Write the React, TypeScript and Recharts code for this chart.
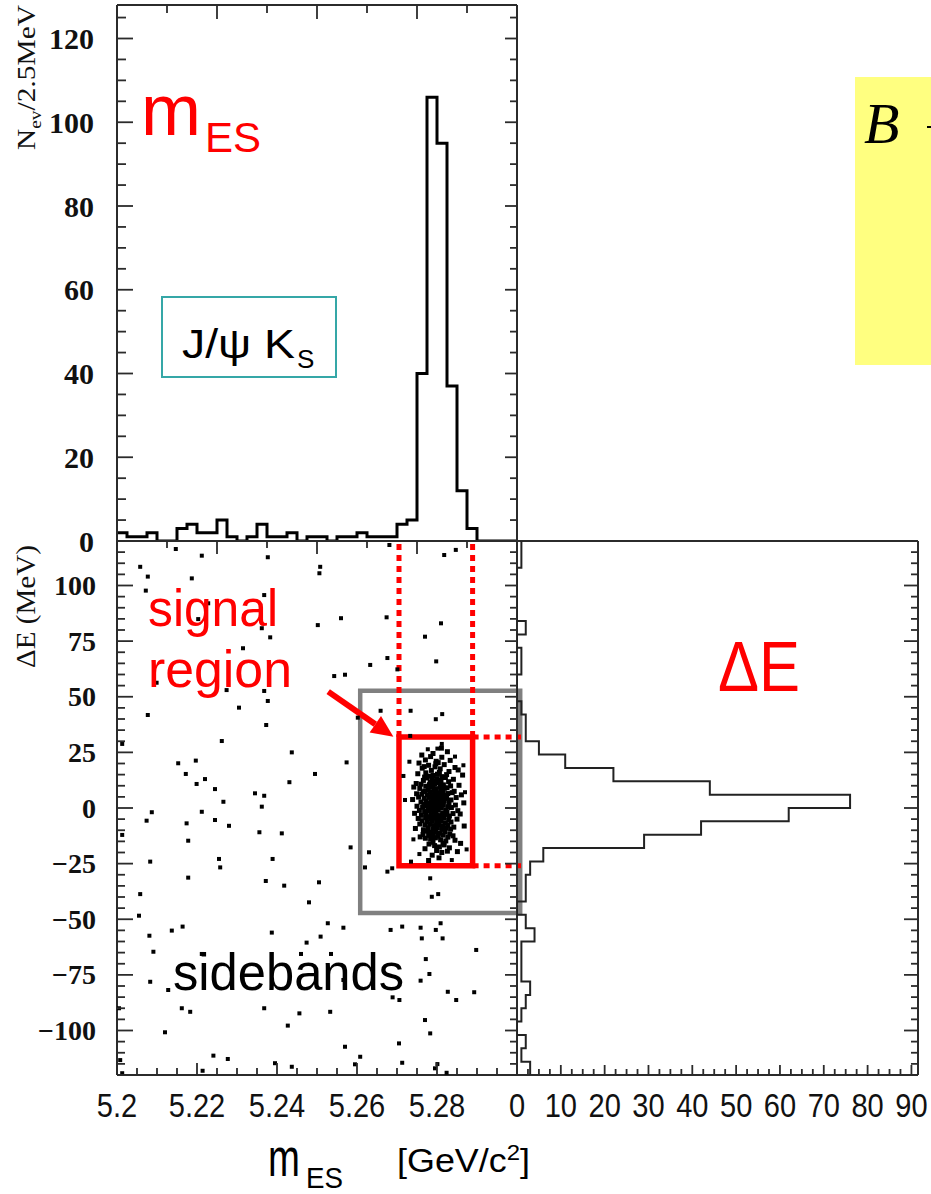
import React from "react"
import {
  LineChart,
  Line,
  ScatterChart,
  Scatter,
  XAxis,
  YAxis,
  ReferenceArea,
  ReferenceLine,
} from "recharts"

const W = 931
const H = 1194

// m_ES histogram: 2.5 MeV bins from 5.200 to 5.300 GeV/c2
const MES_START = 5.2
const MES_BIN = 0.0025
const MES_COUNTS = [
  2, 1, 1, 2, 0, 0, 3, 4, 2, 2, 5, 1, 0, 1, 4, 1, 1, 2, 0, 1,
  1, 0, 1, 1, 2, 1, 1, 1, 4, 5, 40, 106, 95, 37, 12, 3, 0, 0, 0, 0,
]

// Delta E histogram: 6 MeV bins from +120 down to -120 MeV
const DE_START = 120
const DE_BIN = 6
const DE_COUNTS = [
  1, 1, 0, 0, 0, 0, 2, 0, 1, 1, 0, 0, 1, 2, 2, 5, 11, 22, 44, 76,
  62, 42, 29, 6, 3, 2, 2, 0, 2, 4, 1, 1, 1, 3, 2, 1, 0, 2, 1, 3,
]

// scatter: [mES, dE] of the events outside the signal peak
const BG_EVENTS: [number, number][] = [
  [5.2147, 116.4], [5.2212, 113.4], [5.2377, 112.7], [5.2058, 108.4], [5.2508, 108.4], [5.2077, 104.0], [5.2187, 103.2], [5.2506, 105.5], [5.2072, 97.7], [5.2368, 95.7],
  [5.2228, 92.0], [5.2203, 84.9], [5.2362, 80.8], [5.2383, 76.7], [5.2502, 82.2], [5.2560, 85.3], [5.2315, 71.8], [5.2543, 59.3], [5.2570, 59.9], [5.2099, 56.3],
  [5.2274, 53.0], [5.2368, 52.6], [5.2377, 48.1], [5.2305, 45.1], [5.2077, 41.8], [5.2373, 37.3], [5.2602, 40.6], [5.2013, 28.8], [5.2262, 30.1], [5.2437, 25.0],
  [5.2153, 20.1], [5.2197, 21.3], [5.2574, 20.5], [5.2172, 15.3], [5.2495, 15.3], [5.2220, 13.0], [5.2199, 10.8], [5.2431, 11.6], [5.2245, 8.5], [5.2345, 6.6],
  [5.2368, 5.5], [5.2266, 2.8], [5.2362, 0.6], [5.2087, -1.9], [5.2074, -5.7], [5.2212, -1.7], [5.2174, -6.9], [5.2245, -5.4], [5.2280, -8.0], [5.2013, -12.1],
  [5.2356, -10.9], [5.2412, -11.4], [5.2178, -14.7], [5.2584, -17.7], [5.2083, -24.1], [5.2255, -22.9], [5.2258, -26.7], [5.2389, -22.9], [5.2178, -31.3], [5.2372, -32.8],
  [5.2418, -34.9], [5.2505, -33.4], [5.2058, -38.7], [5.2480, -42.4], [5.2055, -48.4], [5.2527, -51.8], [5.2566, -53.8], [5.2137, -55.1], [5.2164, -53.3], [5.2081, -57.4],
  [5.2387, -56.0], [5.2474, -60.5], [5.2509, -57.8], [5.2091, -64.6], [5.2460, -65.6], [5.2535, -65.6], [5.2212, -65.6], [5.2083, -78.1], [5.2128, -81.8], [5.2566, -77.3],
  [5.2005, -90.0], [5.2162, -90.0], [5.2183, -91.6], [5.2368, -90.0], [5.2456, -92.3], [5.2533, -91.6], [5.2427, -97.8], [5.2120, -100.8], [5.2570, -107.3], [5.2241, -111.3],
  [5.2277, -112.8], [5.2008, -113.3], [5.2608, -111.8], [5.2395, -114.7], [5.2437, -116.3], [5.2214, -118.1], [5.2013, -119.2], [5.2595, -115.2],
  [5.2681, 118.2], [5.2818, 113.7], [5.2847, 116.0], [5.2674, 85.7], [5.2810, 83.0], [5.2770, 77.0], [5.2676, 67.4], [5.2633, 64.3], [5.2701, 62.3], [5.2798, 65.9],
  [5.2659, 43.7], [5.2734, 43.7], [5.2797, 39.9], [5.2813, 42.2], [5.2733, 32.4], [5.2777, 26.4], [5.2801, 26.7], [5.2812, 28.8], [5.2731, 20.8], [5.2845, 23.1],
  [5.2866, 19.2], [5.2716, 14.4], [5.2870, 7.1], [5.2720, 3.6], [5.2741, -14.1],
  [5.2630, -19.9], [5.2620, -26.7], [5.2676, -28.6], [5.2688, -27.1], [5.2735, -24.1], [5.2756, -20.7], [5.2837, -23.4], [5.2874, -18.6], [5.2783, -31.6], [5.2787, -39.9],
  [5.2803, -38.7], [5.2684, -54.8], [5.2713, -53.3], [5.2759, -53.8], [5.2762, -58.6], [5.2797, -54.8], [5.2809, -51.8], [5.2814, -58.6], [5.2898, -63.8], [5.2772, -67.9],
  [5.2781, -74.6], [5.2759, -77.6], [5.2689, -85.1], [5.2706, -86.3], [5.2827, -82.6], [5.2848, -86.3], [5.2893, -82.8], [5.2770, -95.3], [5.2705, -105.8], [5.2783, -101.3],
  [5.2713, -114.5], [5.2795, -117.0], [5.2824, -119.0], [5.2801, -115.1],
]

// scatter: [mES, dE] of the J/psi Ks signal cluster
const SIGNAL_EVENTS: [number, number][] = [
  [5.2790, 24.5], [5.2812, 22.8], [5.2771, 21.6], [5.2803, 20.4], [5.2826, 25.3], [5.2784, 23.1], [5.2798, 21.0], [5.2755, 20.2],
  [5.2779, 19.2], [5.2795, 18.5], [5.2808, 17.6], [5.2786, 16.9], [5.2818, 19.5], [5.2772, 15.8], [5.2801, 15.2], [5.2830, 16.4], [5.2763, 17.9],
  [5.2790, 14.6], [5.2812, 14.1], [5.2845, 18.2], [5.2797, 19.9], [5.2781, 14.3], [5.2824, 15.0], [5.2768, 18.6], [5.2806, 16.0], [5.2752, 15.4],
  [5.2775, 13.5], [5.2788, 12.8], [5.2799, 13.2], [5.2810, 12.1], [5.2821, 13.7], [5.2766, 12.4], [5.2783, 11.6], [5.2794, 10.9], [5.2805, 11.3], [5.2816, 10.4],
  [5.2829, 11.8], [5.2760, 10.7], [5.2772, 9.8], [5.2786, 9.3], [5.2797, 8.7], [5.2808, 9.5], [5.2819, 8.9], [5.2834, 9.9], [5.2778, 8.3], [5.2790, 10.1],
  [5.2802, 12.5], [5.2748, 11.0], [5.2841, 12.9], [5.2813, 8.4], [5.2769, 13.9], [5.2793, 11.9], [5.2825, 9.1], [5.2781, 10.5], [5.2855, 10.2], [5.2757, 8.8],
  [5.2770, 7.6], [5.2782, 7.1], [5.2793, 7.9], [5.2804, 6.8], [5.2815, 7.4], [5.2827, 6.5], [5.2762, 6.2], [5.2776, 5.8], [5.2788, 6.0], [5.2799, 5.4],
  [5.2810, 5.9], [5.2822, 5.1], [5.2838, 6.9], [5.2754, 4.9], [5.2768, 4.4], [5.2780, 4.8], [5.2791, 4.1], [5.2802, 4.6], [5.2813, 3.9], [5.2824, 4.3],
  [5.2835, 3.6], [5.2773, 3.2], [5.2785, 2.9], [5.2796, 3.4], [5.2807, 2.6], [5.2818, 3.1], [5.2830, 2.4], [5.2760, 2.7], [5.2749, 6.4], [5.2848, 4.7],
  [5.2797, 6.6], [5.2786, 2.2], [5.2809, 7.7], [5.2766, 7.3], [5.2819, 5.6], [5.2777, 2.0], [5.2843, 7.5], [5.2801, 3.0], [5.2792, 5.2], [5.2861, 5.9],
  [5.2771, 1.6], [5.2783, 1.2], [5.2794, 1.8], [5.2805, 0.9], [5.2816, 1.4], [5.2828, 0.6], [5.2764, 0.3], [5.2777, -0.2], [5.2789, 0.4], [5.2800, -0.5],
  [5.2811, 0.1], [5.2822, -0.8], [5.2836, 0.2], [5.2756, -1.1], [5.2769, -1.6], [5.2781, -1.3], [5.2792, -1.9], [5.2803, -1.0], [5.2814, -2.2], [5.2825, -1.7],
  [5.2840, -2.5], [5.2773, -2.8], [5.2786, -3.1], [5.2797, -2.6], [5.2808, -3.4], [5.2819, -2.9], [5.2831, -3.6], [5.2761, -3.3], [5.2750, 0.8], [5.2852, -1.2],
  [5.2795, 0.0], [5.2784, -0.7], [5.2806, 1.7], [5.2817, -3.8], [5.2767, 1.1], [5.2846, 1.3], [5.2779, -3.9], [5.2799, -3.5], [5.2858, -2.7], [5.2744, -2.4],
  [5.2772, -4.3], [5.2784, -4.8], [5.2795, -4.5], [5.2806, -5.1], [5.2817, -4.6], [5.2829, -5.4], [5.2763, -5.7], [5.2776, -6.2], [5.2788, -5.9], [5.2799, -6.5],
  [5.2810, -6.0], [5.2821, -6.8], [5.2835, -6.3], [5.2757, -7.2], [5.2770, -7.6], [5.2782, -7.3], [5.2793, -7.9], [5.2804, -7.5], [5.2815, -8.2], [5.2827, -7.7],
  [5.2842, -8.6], [5.2778, -8.9], [5.2790, -9.3], [5.2801, -8.8], [5.2812, -9.6], [5.2823, -9.1], [5.2766, -9.8], [5.2850, -5.0], [5.2753, -4.7], [5.2797, -9.9],
  [5.2834, -9.5], [5.2786, -4.1],
  [5.2774, -10.4], [5.2786, -10.9], [5.2797, -10.6], [5.2808, -11.3], [5.2820, -10.8], [5.2832, -11.7], [5.2765, -11.9], [5.2779, -12.3], [5.2791, -12.0], [5.2803, -12.7],
  [5.2815, -12.2], [5.2827, -13.1], [5.2840, -12.5], [5.2771, -13.6], [5.2784, -14.0], [5.2796, -13.4], [5.2809, -14.3], [5.2822, -14.8], [5.2758, -13.0], [5.2845, -14.5],
  [5.2790, -15.4], [5.2815, -15.8],
  [5.2780, -16.2], [5.2794, -16.9], [5.2806, -17.5], [5.2818, -16.6], [5.2831, -17.9], [5.2770, -18.3], [5.2799, -19.1], [5.2812, -20.0], [5.2788, -21.2], [5.2826, -19.4],
  // wider tails of the peak
  [5.2864, 14.8], [5.2868, -8.1], [5.2859, -15.9], [5.2742, 9.4], [5.2746, -9.2], [5.2853, 17.1], [5.2867, 2.3], [5.2739, 3.8],
  [5.2805, -22.4], [5.2779, -23.6], [5.2833, 21.4], [5.2762, 23.8], [5.2851, -19.6], [5.2811, 26.9],
]

// tick labels
const NEV_LABELS = [0, 20, 40, 60, 80, 100, 120]
const DE_LABELS = [-100, -75, -50, -25, 0, 25, 50, 75, 100]
const MES_LABELS = [5.2, 5.22, 5.24, 5.26, 5.28]
const COUNT_LABELS = [0, 10, 20, 30, 40, 50, 60, 70, 80, 90]

// cut boxes (mES in GeV, dE in MeV)
const SIGNAL_BOX = { m1: 5.2705, m2: 5.2889, e1: -26, e2: 31.9 }
const SIDEBAND_BOX = { m1: 5.2608, m2: 5.3008, e1: -47.2, e2: 52.7 }
const ARROW = { m1: 5.2528, e1: 52.3, m2: 5.2691, e2: 32.0 }

const RED = "#ff0000"
const FRAME = "#2b2b2b"
const SERIF = "'Liberation Serif', 'Times New Roman', serif"
const SANS = "'Liberation Sans', Arial, sans-serif"
const NARROW = "'Liberation Sans Narrow', 'Arial Narrow', 'Liberation Sans', sans-serif"

const mesHist = [
  ...MES_COUNTS.map((n, i) => ({ m: +(MES_START + i * MES_BIN).toFixed(4), n })),
  { m: +(MES_START + MES_COUNTS.length * MES_BIN).toFixed(4), n: MES_COUNTS[MES_COUNTS.length - 1] },
]
// outline of the sideways histogram: each bin gives its top and bottom corner at its count
const deOutline = DE_COUNTS.flatMap((n, i) => [
  { n, de: DE_START - i * DE_BIN },
  { n, de: DE_START - (i + 1) * DE_BIN },
])
const bgData = BG_EVENTS.map(([m, de]) => ({ m, de }))
const sigData = SIGNAL_EVENTS.map(([m, de]) => ({ m, de }))

const steps = (from: number, to: number, step: number) => {
  const n = Math.round((to - from) / step)
  return Array.from({ length: n + 1 }, (_, i) => Number((from + i * step).toFixed(6)))
}
const isMultiple = (v: number, step: number) => Math.abs(v / step - Math.round(v / step)) < 1e-6
const inList = (v: number, list: number[]) => list.some((l) => Math.abs(l - v) < 1e-6)

type Side = "left" | "right" | "top" | "bottom"
interface TickStyle {
  side: Side
  majorStep: number
  long: number
  short: number
  labels?: number[]
  format?: (v: number) => string
  font?: string
  size?: number
  weight?: number | string
  gap?: number
  squeeze?: number
}

// inward tick marks (long on major steps) plus optional label outside the frame
const makeTick = (s: TickStyle) => (props: any) => {
  const { x, y, payload } = props
  const v = Number(payload.value)
  const len = isMultiple(v, s.majorStep) ? s.long : s.short
  const dx = s.side === "left" ? len : s.side === "right" ? -len : 0
  const dy = s.side === "top" ? len : s.side === "bottom" ? -len : 0
  const label = s.labels && inList(v, s.labels) ? (s.format ? s.format(v) : String(v)) : null
  const gap = s.gap ?? 20
  const sq = s.squeeze ?? 1
  return (
    <g>
      <line x1={x} y1={y} x2={x + dx} y2={y + dy} stroke={FRAME} strokeWidth={1.8} />
      {label !== null && s.side === "left" && (
        <text x={x - gap} y={y} textAnchor="end" dominantBaseline="central" fontFamily={s.font} fontSize={s.size} fontWeight={s.weight} fill="#111">
          {label}
        </text>
      )}
      {label !== null && s.side === "bottom" && (
        <g transform={`translate(${x},${y + gap}) scale(${sq},1)`}>
          <text x={0} y={0} textAnchor="middle" fontFamily={s.font} fontSize={s.size} fontWeight={s.weight} fill="#111">
            {label}
          </text>
        </g>
      )}
    </g>
  )
}

const axisLine = { stroke: FRAME, strokeWidth: 2 }
const bgSquare = (p: any) => <rect x={p.cx - 2} y={p.cy - 2} width={4} height={4} fill="#000" />
const sigSquare = (p: any) => <rect x={p.cx - 2.5} y={p.cy - 2.5} width={5} height={5} fill="#000" />
const noMarker = () => <g />
const minus = (v: number) => (v < 0 ? `\u2212${Math.abs(v)}` : String(v))

const arrowShape = (p: any) => {
  const { x1, y1, x2, y2 } = p
  const a = Math.atan2(y2 - y1, x2 - x1)
  const L = 22
  const Wd = 10
  const bx = x2 - L * Math.cos(a)
  const by = y2 - L * Math.sin(a)
  const pts = [
    [x2, y2],
    [bx + Wd * Math.sin(a), by - Wd * Math.cos(a)],
    [bx - Wd * Math.sin(a), by + Wd * Math.cos(a)],
  ]
  return (
    <g>
      <line x1={x1} y1={y1} x2={bx} y2={by} stroke={RED} strokeWidth={6} />
      <polygon points={pts.map((q) => q.join(",")).join(" ")} fill={RED} />
    </g>
  )
}

// axes get a 1px box (a 0px axis is not drawn), margins are one pixel smaller
function MesHistogram() {
  return (
    <LineChart width={W} height={H} data={mesHist} margin={{ top: 4, left: 116, right: W - 518, bottom: H - 541 }}>
      <XAxis
        type="number"
        dataKey="m"
        orientation="top"
        domain={[5.2, 5.3]}
        allowDataOverflow
        ticks={steps(5.2, 5.3, 0.0125)}
        interval={0}
        height={1}
        tickSize={0}
        tickMargin={0}
        tickLine={false}
        axisLine={axisLine}
        tick={makeTick({ side: "top", majorStep: 0.025, long: 14, short: 8 })}
      />
      <YAxis
        type="number"
        domain={[0, 128]}
        allowDataOverflow
        ticks={steps(0, 125, 5)}
        interval={0}
        width={1}
        tickSize={0}
        tickMargin={0}
        tickLine={false}
        axisLine={axisLine}
        tick={makeTick({ side: "left", majorStep: 20, long: 16, short: 9, labels: NEV_LABELS, font: SERIF, size: 30, weight: 700, gap: 23 })}
      />
      <YAxis
        yAxisId="r"
        orientation="right"
        type="number"
        domain={[0, 128]}
        allowDataOverflow
        ticks={steps(0, 125, 5)}
        interval={0}
        width={1}
        tickSize={0}
        tickMargin={0}
        tickLine={false}
        axisLine={axisLine}
        tick={makeTick({ side: "right", majorStep: 20, long: 12, short: 7 })}
      />
      <Line type="stepAfter" dataKey="n" stroke="#000" strokeWidth={3} dot={false} isAnimationActive={false} />
    </LineChart>
  )
}

function EventScatter() {
  return (
    <ScatterChart width={W} height={H} margin={{ top: 540, left: 116, right: W - 518, bottom: H - 1076 }}>
      <XAxis
        type="number"
        dataKey="m"
        domain={[5.2, 5.3]}
        allowDataOverflow
        ticks={steps(5.2, 5.3, 0.005)}
        interval={0}
        height={1}
        tickSize={0}
        tickMargin={0}
        tickLine={false}
        axisLine={axisLine}
        tick={makeTick({ side: "bottom", majorStep: 0.02, long: 12, short: 7, labels: MES_LABELS, font: NARROW, size: 33, gap: 42, squeeze: 0.88 })}
      />
      <XAxis
        xAxisId="t"
        orientation="top"
        type="number"
        dataKey="m"
        domain={[5.2, 5.3]}
        allowDataOverflow
        ticks={steps(5.2, 5.3, 0.0125)}
        interval={0}
        height={1}
        tickSize={0}
        tickMargin={0}
        tickLine={false}
        axisLine={axisLine}
        tick={makeTick({ side: "top", majorStep: 0.025, long: 13, short: 7 })}
      />
      <YAxis
        type="number"
        dataKey="de"
        domain={[-120, 120]}
        allowDataOverflow
        ticks={steps(-120, 120, 5)}
        interval={0}
        width={1}
        tickSize={0}
        tickMargin={0}
        tickLine={false}
        axisLine={axisLine}
        tick={makeTick({ side: "left", majorStep: 25, long: 16, short: 8, labels: DE_LABELS, format: minus, font: SERIF, size: 28, weight: 700, gap: 21 })}
      />
      <YAxis
        yAxisId="r"
        orientation="right"
        type="number"
        domain={[-120, 120]}
        allowDataOverflow
        ticks={steps(-120, 120, 5)}
        interval={0}
        width={1}
        tickSize={0}
        tickMargin={0}
        tickLine={false}
        axisLine={axisLine}
        tick={makeTick({ side: "right", majorStep: 25, long: 12, short: 7 })}
      />
      <Scatter data={bgData} shape={bgSquare} isAnimationActive={false} />
      <Scatter data={sigData} shape={sigSquare} isAnimationActive={false} />

      <ReferenceArea
        x1={SIDEBAND_BOX.m1}
        x2={SIDEBAND_BOX.m2}
        y1={SIDEBAND_BOX.e1}
        y2={SIDEBAND_BOX.e2}
        ifOverflow="visible"
        fill="none"
        stroke="#808080"
        strokeWidth={4.5}
      />
      <ReferenceArea
        x1={SIGNAL_BOX.m1}
        x2={SIGNAL_BOX.m2}
        y1={SIGNAL_BOX.e1}
        y2={SIGNAL_BOX.e2}
        ifOverflow="visible"
        fill="none"
        stroke={RED}
        strokeWidth={5.5}
      />
      {/* dotted projections of the signal box */}
      <ReferenceLine segment={[{ x: SIGNAL_BOX.m1, y: SIGNAL_BOX.e2 }, { x: SIGNAL_BOX.m1, y: 120 }]} ifOverflow="visible" stroke={RED} strokeWidth={5} strokeDasharray="6 5" />
      <ReferenceLine segment={[{ x: SIGNAL_BOX.m2, y: SIGNAL_BOX.e2 }, { x: SIGNAL_BOX.m2, y: 120 }]} ifOverflow="visible" stroke={RED} strokeWidth={5} strokeDasharray="6 5" />
      <ReferenceLine segment={[{ x: SIGNAL_BOX.m2, y: SIGNAL_BOX.e2 }, { x: 5.301, y: SIGNAL_BOX.e2 }]} ifOverflow="visible" stroke={RED} strokeWidth={5} strokeDasharray="6 5" />
      <ReferenceLine segment={[{ x: SIGNAL_BOX.m2, y: SIGNAL_BOX.e1 }, { x: 5.301, y: SIGNAL_BOX.e1 }]} ifOverflow="visible" stroke={RED} strokeWidth={5} strokeDasharray="6 5" />
      <ReferenceLine segment={[{ x: ARROW.m1, y: ARROW.e1 }, { x: ARROW.m2, y: ARROW.e2 }]} ifOverflow="visible" shape={arrowShape} />
    </ScatterChart>
  )
}

function DeHistogram() {
  return (
    <ScatterChart width={W} height={H} margin={{ top: 540, left: 516, right: W - 919, bottom: H - 1076 }}>
      <XAxis
        type="number"
        dataKey="n"
        domain={[0, 91.5]}
        allowDataOverflow
        ticks={steps(0, 90, 2.5)}
        interval={0}
        height={1}
        tickSize={0}
        tickMargin={0}
        tickLine={false}
        axisLine={axisLine}
        tick={makeTick({ side: "bottom", majorStep: 10, long: 10, short: 6, labels: COUNT_LABELS, font: NARROW, size: 33, gap: 42, squeeze: 0.88 })}
      />
      <XAxis
        xAxisId="t"
        orientation="top"
        type="number"
        domain={[0, 91.5]}
        allowDataOverflow
        ticks={steps(0, 90, 5)}
        interval={0}
        height={1}
        tickSize={0}
        tickMargin={0}
        tickLine={false}
        axisLine={axisLine}
        tick={makeTick({ side: "top", majorStep: 20, long: 14, short: 7 })}
      />
      <YAxis type="number" dataKey="de" domain={[-120, 120]} allowDataOverflow width={1} tick={false} tickLine={false} axisLine={axisLine} />
      <YAxis
        yAxisId="r"
        orientation="right"
        type="number"
        domain={[-120, 120]}
        allowDataOverflow
        ticks={steps(-120, 120, 5)}
        interval={0}
        width={1}
        tickSize={0}
        tickMargin={0}
        tickLine={false}
        axisLine={axisLine}
        tick={makeTick({ side: "right", majorStep: 25, long: 14, short: 7 })}
      />
      <Scatter data={deOutline} line={{ stroke: "#222", strokeWidth: 2 }} shape={noMarker} isAnimationActive={false} />
    </ScatterChart>
  )
}

function Annotations() {
  return (
    <svg width={W} height={H} style={{ position: "absolute", left: 0, top: 0 }}>
      {/* slide title box, cut at the page edge */}
      <rect x={855} y={77} width={90} height={288} fill="#ffff80" />
      <text x={864} y={143} fontFamily={SERIF} fontStyle="italic" fontSize={58} fill="#000">B</text>
      <rect x={927} y={126} width={6} height={2} fill="#000" />

      {/* axis titles */}
      <text transform="translate(35,150) rotate(-90)" fontFamily={SERIF} fontSize={26} textLength={145} lengthAdjust="spacingAndGlyphs" fill="#111">
        N<tspan fontSize={17} dy={6}>ev</tspan>
        <tspan dy={-6}>/2.5MeV</tspan>
      </text>
      <text transform="translate(35,668) rotate(-90)" fontFamily={SERIF} fontSize={27} textLength={123} lengthAdjust="spacingAndGlyphs" fill="#111">
        ΔE (MeV)
      </text>
      <g transform="translate(268,1176) scale(0.71,1)">
        <text x={0} y={0} fontFamily={SANS} fontSize={54} fill="#000">m</text>
      </g>
      <text x={306} y={1188} fontFamily={SANS} fontSize={30} textLength={37} lengthAdjust="spacingAndGlyphs" fill="#000">ES</text>
      <text x={397} y={1172} fontFamily={SANS} fontSize={33} textLength={133} lengthAdjust="spacingAndGlyphs" fill="#000">
        [GeV/c<tspan dy={-12} fontSize={22}>2</tspan>
        <tspan dy={12}>]</tspan>
      </text>

      {/* panel labels */}
      <text x={141} y={135} fontFamily={SANS} fill={RED}>
        <tspan fontSize={72}>m</tspan>
        <tspan x={205} y={152} fontSize={42}>ES</tspan>
      </text>
      <text x={718} y={691} fontFamily={SANS} fontSize={70} textLength={82} lengthAdjust="spacingAndGlyphs" fill={RED}>ΔE</text>

      <rect x={162} y={297} width={174} height={80} fill="none" stroke="#35a7a7" strokeWidth={2} />
      <text x={182} y={358} fontFamily={SANS} fill="#000">
        <tspan fontSize={40} textLength={113} lengthAdjust="spacingAndGlyphs">J/ψ K</tspan>
        <tspan x={297} y={368} fontSize={26}>S</tspan>
      </text>

      <text x={148} y={626} fontFamily={SANS} fontSize={52} textLength={130} lengthAdjust="spacingAndGlyphs" fill={RED}>signal</text>
      <text x={148} y={687} fontFamily={SANS} fontSize={52} textLength={144} lengthAdjust="spacingAndGlyphs" fill={RED}>region</text>
      <text x={173} y={990} fontFamily={SANS} fontSize={52} textLength={231} lengthAdjust="spacingAndGlyphs" fill="#000">sidebands</text>
    </svg>
  )
}

export default function App() {
  return (
    <div style={{ position: "absolute", left: 0, top: 0, width: W, height: H, overflow: "hidden", background: "#fff" }}>
      <div style={{ position: "absolute", left: 0, top: 0 }}>
        <MesHistogram />
      </div>
      <div style={{ position: "absolute", left: 0, top: 0 }}>
        <EventScatter />
      </div>
      <div style={{ position: "absolute", left: 0, top: 0 }}>
        <DeHistogram />
      </div>
      <Annotations />
    </div>
  )
}
